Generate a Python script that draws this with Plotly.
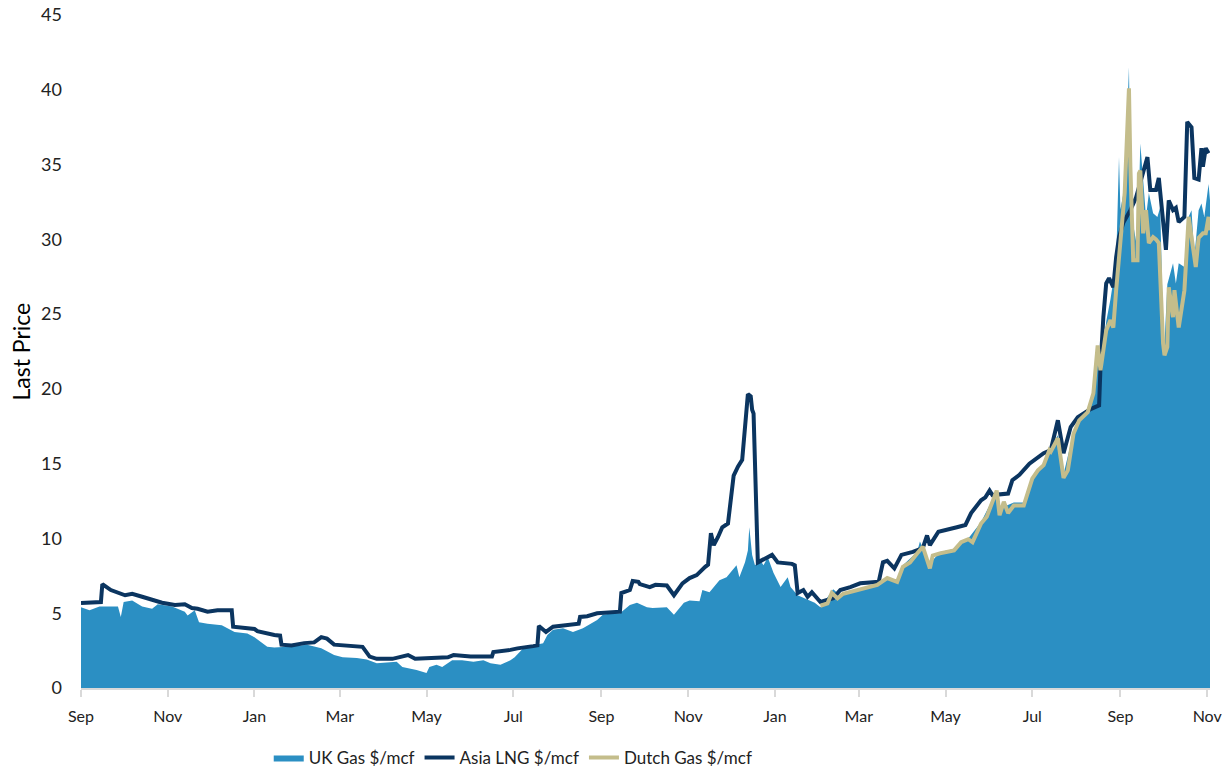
import plotly.graph_objects as go

# ---------------- data ----------------
uk_dates = [
    "2019-09-01","2019-09-07","2019-09-14","2019-09-27","2019-09-29","2019-10-01","2019-10-07",
    "2019-10-14","2019-10-21","2019-10-25","2019-11-04","2019-11-13","2019-11-15","2019-11-20",
    "2019-11-23","2019-11-29","2019-12-09","2019-12-13","2019-12-18","2019-12-27","2020-01-01",
    "2020-01-10","2020-01-15","2020-01-24","2020-02-07","2020-02-17","2020-02-26","2020-03-03",
    "2020-03-13","2020-03-20","2020-03-27","2020-04-10","2020-04-14","2020-04-24","2020-05-01",
    "2020-05-03","2020-05-08","2020-05-12","2020-05-19","2020-05-26","2020-06-03","2020-06-10",
    "2020-06-15","2020-06-22","2020-06-29","2020-07-02","2020-07-08","2020-07-15","2020-07-22",
    "2020-07-25","2020-07-29","2020-08-05","2020-08-12","2020-08-19","2020-08-29","2020-09-02",
    "2020-09-09","2020-09-14","2020-09-21","2020-09-26","2020-10-03","2020-10-07","2020-10-17",
    "2020-10-22","2020-10-29","2020-11-02","2020-11-09","2020-11-11","2020-11-16","2020-11-23",
    "2020-11-28","2020-12-05","2020-12-07","2020-12-11","2020-12-13","2020-12-14","2020-12-16",
    "2020-12-18","2020-12-22","2020-12-24","2020-12-27","2020-12-31","2021-01-05","2021-01-10",
    "2021-01-12","2021-01-17","2021-01-24","2021-01-29","2021-02-02","2021-02-11","2021-02-16",
    "2021-02-28","2021-03-14","2021-03-21","2021-03-28","2021-04-01","2021-04-11","2021-04-13",
    "2021-04-20","2021-04-27","2021-05-07","2021-05-17","2021-05-26","2021-06-03","2021-06-06",
    "2021-06-08","2021-06-18","2021-06-25","2021-07-01","2021-07-09","2021-07-13","2021-07-19",
    "2021-07-23","2021-07-30","2021-08-03","2021-08-09","2021-08-13","2021-08-16","2021-08-18",
    "2021-08-22","2021-08-25","2021-08-29","2021-08-31","2021-09-01","2021-09-04","2021-09-07",
    "2021-09-08","2021-09-10","2021-09-13","2021-09-15","2021-09-19","2021-09-21","2021-09-24",
    "2021-09-27","2021-09-29","2021-10-01","2021-10-02","2021-10-04","2021-10-08","2021-10-10",
    "2021-10-12","2021-10-16","2021-10-18","2021-10-21","2021-10-23","2021-10-26","2021-10-28",
    "2021-10-30","2021-11-01","2021-11-02","2021-11-03",
]
uk_values = [
    5.4, 5.2, 5.45, 5.45, 4.75, 5.75, 5.85,
    5.45, 5.3, 5.6, 5.45, 5.1, 4.85, 5.2,
    4.4, 4.3, 4.2, 4.0, 3.75, 3.65, 3.4,
    2.75, 2.7, 2.75, 2.9, 2.65, 2.2, 2.05,
    2.0, 1.9, 1.65, 1.75, 1.4, 1.2, 1.0,
    1.4, 1.55, 1.4, 1.85, 1.85, 1.75, 1.85,
    1.65, 1.55, 1.85, 2.05, 2.65, 2.85, 3.0,
    3.55, 3.9, 4.0, 3.75, 4.0, 4.55, 4.9,
    5.0, 5.0, 5.55, 5.7, 5.4, 5.35, 5.4,
    4.9, 5.7, 5.85, 5.8, 6.55, 6.4, 7.2,
    7.4, 8.2, 7.4, 8.4, 9.2, 10.75, 8.9,
    8.2, 8.5, 8.2, 8.75, 7.7, 6.75, 7.4,
    6.75, 6.2, 5.9, 5.7, 5.4, 6.6, 6.2,
    6.5, 6.9, 7.3, 7.2, 8.2, 9.1, 9.8,
    8.3, 9.1, 9.3, 10.0, 11.1, 12.6, 13.0,
    12.0, 12.4, 12.4, 14.1, 15.0, 16.0, 16.9,
    14.3, 17.1, 18.0, 18.6, 19.8, 22.0, 21.5,
    24.5, 26.0, 28.5, 35.5, 32.0, 33.5, 41.5,
    34.9, 31.0, 29.3, 36.4, 31.5, 33.1, 31.75,
    31.5, 32.15, 24.0, 23.0, 27.0, 28.4, 27.05,
    28.4, 28.15, 31.3, 31.95, 28.8, 31.95, 32.4,
    31.5, 33.0, 33.7, 32.6,
]

asia_dates = [
    "2019-09-01","2019-09-15","2019-09-16","2019-09-22","2019-10-02","2019-10-07","2019-10-14",
    "2019-10-22","2019-10-28","2019-11-06","2019-11-13","2019-11-18","2019-11-22","2019-11-29",
    "2019-12-06","2019-12-16","2019-12-17","2020-01-01","2020-01-03","2020-01-15","2020-01-19",
    "2020-01-20","2020-01-27","2020-02-05","2020-02-12","2020-02-17","2020-02-21","2020-02-26",
    "2020-03-05","2020-03-17","2020-03-22","2020-03-27","2020-04-07","2020-04-12","2020-04-18",
    "2020-04-23","2020-05-16","2020-05-20","2020-05-26","2020-06-01","2020-06-16","2020-06-17",
    "2020-06-29","2020-07-04","2020-07-15","2020-07-18","2020-07-19","2020-07-24","2020-07-29",
    "2020-08-05","2020-08-16","2020-08-17","2020-08-22","2020-08-29","2020-09-05","2020-09-14",
    "2020-09-15","2020-09-21","2020-09-23","2020-09-27","2020-09-28","2020-10-05","2020-10-09",
    "2020-10-17","2020-10-22","2020-10-28","2020-11-02","2020-11-07","2020-11-13","2020-11-15",
    "2020-11-17","2020-11-19","2020-11-22","2020-11-25","2020-11-29","2020-12-01","2020-12-03",
    "2020-12-06","2020-12-09","2020-12-13","2020-12-15","2020-12-16","2020-12-17","2020-12-20",
    "2020-12-27","2020-12-30","2021-01-03","2021-01-13","2021-01-15","2021-01-17","2021-01-21",
    "2021-01-24","2021-01-27","2021-02-02","2021-02-11","2021-02-16","2021-02-23","2021-03-02",
    "2021-03-15","2021-03-18","2021-03-21","2021-03-26","2021-03-31","2021-04-08","2021-04-15",
    "2021-04-18","2021-04-20","2021-04-26","2021-05-09","2021-05-15","2021-05-19","2021-05-26",
    "2021-05-29","2021-06-01","2021-06-03","2021-06-14","2021-06-17","2021-06-22","2021-06-29",
    "2021-07-03","2021-07-09","2021-07-14","2021-07-19","2021-07-23","2021-07-28","2021-08-02",
    "2021-08-06","2021-08-11","2021-08-17","2021-08-18","2021-08-20","2021-08-22","2021-08-24",
    "2021-08-27","2021-08-29","2021-08-31","2021-09-03","2021-09-08","2021-09-12","2021-09-15",
    "2021-09-17","2021-09-20","2021-09-22","2021-09-26","2021-09-28","2021-10-01","2021-10-03",
    "2021-10-05","2021-10-08","2021-10-10","2021-10-12","2021-10-16","2021-10-18","2021-10-21",
    "2021-10-23","2021-10-26","2021-10-28","2021-10-29","2021-10-31","2021-11-02",
]
asia_values = [
    5.68, 5.75, 6.95, 6.55, 6.2, 6.3, 6.1,
    5.9, 5.7, 5.55, 5.6, 5.35, 5.3, 5.1,
    5.2, 5.2, 4.1, 3.95, 3.8, 3.55, 3.5,
    2.9, 2.85, 3.0, 3.05, 3.4, 3.3, 2.9,
    2.85, 2.75, 2.1, 1.95, 1.95, 2.05, 2.2,
    1.95, 2.05, 2.2, 2.15, 2.1, 2.1, 2.4,
    2.55, 2.65, 2.8, 2.85, 4.15, 3.75, 4.1,
    4.2, 4.3, 4.75, 4.8, 5.0, 5.05, 5.1,
    6.35, 6.55, 7.15, 7.1, 6.95, 6.75, 6.9,
    6.85, 6.2, 7.0, 7.35, 7.55, 8.1, 8.25,
    10.35, 9.55, 10.1, 10.75, 11.0, 12.4, 14.2,
    14.8, 15.25, 19.65, 19.5, 18.6, 18.35, 8.4,
    8.75, 8.9, 8.4, 8.3, 8.2, 6.35, 6.55,
    6.1, 6.4, 5.75, 6.0, 6.55, 6.75, 7.0,
    7.1, 8.4, 8.5, 8.0, 8.9, 9.1, 9.35,
    10.2, 9.55, 10.45, 10.75, 10.9, 11.7, 12.55,
    12.75, 13.2, 12.9, 13.0, 13.9, 14.25, 15.0,
    15.25, 15.7, 15.9, 17.9, 15.7, 17.45, 18.1,
    18.35, 18.65, 18.9, 21.5, 24.8, 27.05, 27.4,
    26.8, 28.8, 30.15, 31.1, 31.95, 32.8, 33.75,
    34.6, 35.5, 33.3, 33.3, 34.1, 31.1, 29.3,
    32.6, 31.95, 32.1, 31.15, 31.5, 37.85, 37.5,
    34.1, 34.0, 36.1, 34.85, 36.1, 35.75,
]

dutch_dates = [
    "2021-02-02","2021-02-07","2021-02-10","2021-02-14","2021-02-18","2021-02-28","2021-03-07",
    "2021-03-14","2021-03-21","2021-03-28","2021-04-01","2021-04-06","2021-04-11","2021-04-15",
    "2021-04-20","2021-04-22","2021-04-27","2021-05-07","2021-05-12","2021-05-17","2021-05-20",
    "2021-05-26","2021-05-30","2021-06-03","2021-06-06","2021-06-08","2021-06-11","2021-06-14",
    "2021-06-18","2021-06-25","2021-06-28","2021-07-01","2021-07-05","2021-07-09","2021-07-13",
    "2021-07-14","2021-07-19","2021-07-23","2021-07-26","2021-07-30","2021-08-03","2021-08-09",
    "2021-08-13","2021-08-16","2021-08-18","2021-08-22","2021-08-25","2021-08-27","2021-08-29",
    "2021-09-01","2021-09-04","2021-09-07","2021-09-08","2021-09-10","2021-09-13","2021-09-14",
    "2021-09-15","2021-09-17","2021-09-19","2021-09-21","2021-09-24","2021-09-26","2021-09-28",
    "2021-10-01","2021-10-02","2021-10-04","2021-10-05","2021-10-08","2021-10-09","2021-10-12",
    "2021-10-16","2021-10-19","2021-10-22","2021-10-24","2021-10-26","2021-10-29","2021-10-31",
    "2021-11-02","2021-11-03",
]
dutch_values = [
    5.5, 5.65, 6.35, 6.0, 6.3, 6.55, 6.7,
    6.9, 7.35, 7.1, 8.1, 8.4, 9.0, 9.45,
    8.0, 8.85, 9.0, 9.2, 9.75, 9.95, 9.75,
    11.0, 11.45, 12.55, 13.2, 11.55, 12.45, 11.7,
    12.2, 12.2, 13.0, 14.0, 14.55, 14.9, 15.9,
    15.8, 16.7, 14.05, 14.55, 17.0, 17.9, 18.45,
    19.7, 22.9, 21.25, 23.9, 24.6, 24.1, 26.6,
    30.15, 33.1, 40.1, 34.85, 28.6, 28.6, 34.4,
    34.6, 30.4, 31.95, 29.75, 30.15, 30.0, 29.75,
    23.05, 22.25, 22.8, 26.8, 24.8, 26.6, 24.1,
    26.6, 31.5, 29.3, 28.15, 30.1, 30.4, 30.4,
    31.5, 30.6,
]

y_ticks = [0, 5, 10, 15, 20, 25, 30, 35, 40, 45]
y_title = "Last Price"

# ---------------- figure ----------------
FONT = "Lato, 'Open Sans', sans-serif"

fig = go.Figure()
fig.add_trace(go.Scatter(
    x=uk_dates, y=uk_values, name="UK Gas $/mcf", mode="lines",
    line=dict(width=0, color="#2b8fc3"), fill="tozeroy", fillcolor="#2b8fc3",
))
fig.add_trace(go.Scatter(
    x=asia_dates, y=asia_values, name="Asia LNG $/mcf", mode="lines",
    line=dict(width=4, color="#0b3560"),
))
fig.add_trace(go.Scatter(
    x=dutch_dates, y=dutch_values, name="Dutch Gas $/mcf", mode="lines",
    line=dict(width=4, color="#c4bd8b"),
))

fig.add_annotation(
    text=y_title, xref="paper", yref="paper", x=-0.054, y=0.5,
    xanchor="center", yanchor="middle", textangle=-90, showarrow=False,
    font=dict(size=23, color="#000000", family=FONT),
)

fig.update_layout(
    width=1222, height=771,
    margin=dict(l=81, r=12, t=15, b=83, autoexpand=False),
    paper_bgcolor="white", plot_bgcolor="white",
    font=dict(family=FONT, size=18, color="#222222"),
    showlegend=True,
    legend=dict(orientation="h", xref="container", x=0.42, xanchor="center",
                yref="paper", y=-0.104, yanchor="middle",
                font=dict(size=17, color="#222222"), itemwidth=30,
                traceorder="normal"),
    xaxis=dict(
        type="date", range=["2019-09-01", "2021-11-03"],
        tick0="2019-09-01", dtick="M2", tickformat="%b",
        showgrid=False, showline=True, linecolor="#d9d9d9", linewidth=1.5,
        ticks="outside", ticklen=7, tickcolor="#d9d9d9", tickwidth=1.5,
        ticklabelstandoff=6, zeroline=False, automargin=False,
        ticklabeloverflow="allow", tickfont=dict(size=16),
    ),
    yaxis=dict(
        range=[0, 45], tickvals=y_ticks, showgrid=False, showline=False,
        zeroline=False, ticks="", ticklabelstandoff=18, automargin=False,
    ),
)

fig.write_html("out.html")
